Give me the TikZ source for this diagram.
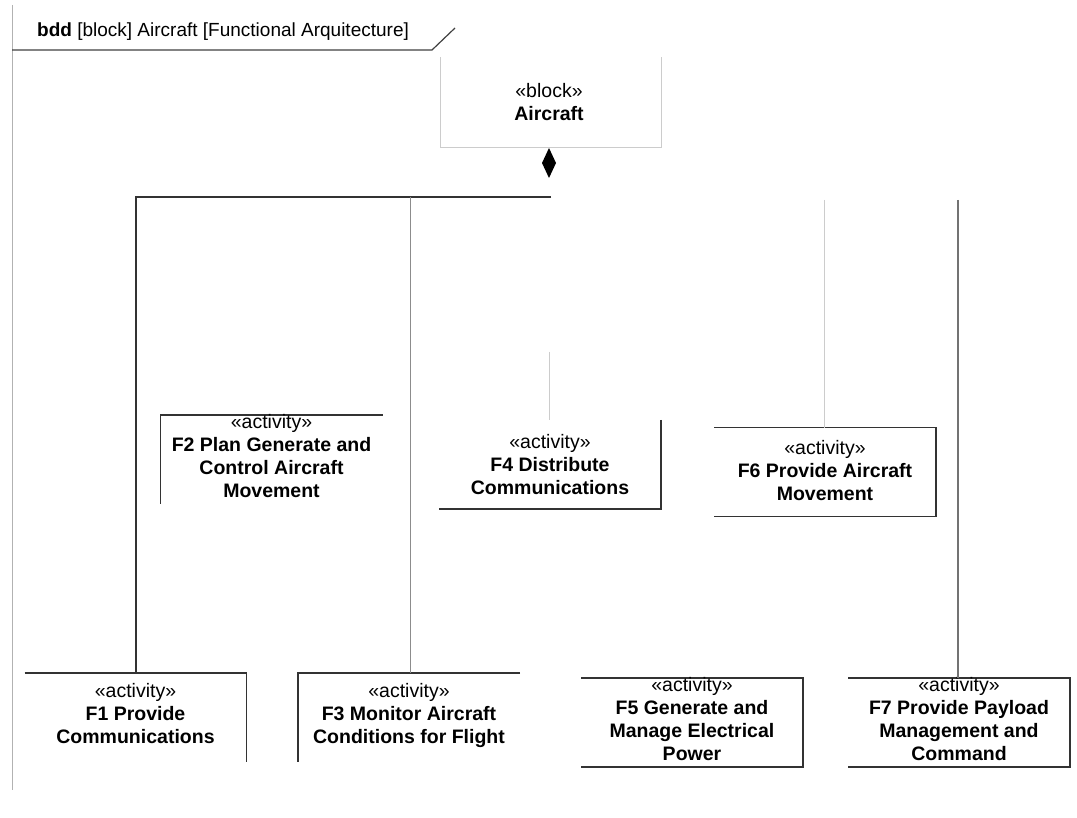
\documentclass[tikz,border=0pt]{standalone}
\usepackage{fontspec}
\setmainfont{Liberation Sans}
\usetikzlibrary{shapes.geometric}
\begin{document}
\begin{tikzpicture}[x=1pt,y=-1pt,
  boxarea/.style={inner sep=0pt,outer sep=0pt,minimum width=222pt,minimum height=89pt},
  label/.style={inner sep=0pt,anchor=north,align=center,font=\fontsize{19.5}{23}\selectfont},
  dark/.style={draw=black!80,line width=1.2pt},
  mid/.style={draw=black!45,line width=1pt},
  light/.style={draw=black!20,line width=1pt},
  frame/.style={draw=black!30,line width=1pt}]
\useasboundingbox (0,0) rectangle (1077,818);
% frame
\coordinate (ftop) at (12,5);
\coordinate (fbot) at (12,790);
\coordinate (hl) at (12,50);
\coordinate (hr) at (432,50);
\coordinate (hd) at (455,28);
\draw[frame] (ftop) -- (fbot);
\draw[draw=black!75,line width=1.2pt] (hl) -- (hr) -- (hd);
\node[anchor=base west,inner sep=0pt,font=\fontsize{19}{22}\selectfont] (hdr) at (37,37) {\textbf{bdd} [block] Aircraft [Functional Arquitecture]};
% Aircraft block
\node[boxarea,minimum width=221pt,minimum height=90pt] (ac) at (550.5,102.5) {};
\draw[light] (ac.north west) -- (ac.south west) -- (ac.south east) -- (ac.north east);
\node[label] (act) at (549,83) {«block»\\\textbf{Aircraft}};
\node[fill=black,diamond,inner sep=0pt,outer sep=0pt,minimum width=14pt,minimum height=30pt] (dia) at (549,163) {};
% boxes
\node[boxarea] (f2) at (271.5,459.5) {};
\node[boxarea] (f4) at (550,464.5) {};
\node[boxarea] (f6) at (825,472) {};
\node[boxarea] (f1) at (135.5,717.5) {};
\node[boxarea] (f3) at (409,717.5) {};
\node[boxarea] (f5) at (692,722.5) {};
\node[boxarea] (f7) at (959,722.5) {};
\draw[dark] (f2.north east) -- (f2.north west) -- (f2.south west);
\draw[dark] (f4.north east) -- (f4.south east) -- (f4.south west);
\draw[dark] (f6.north west) -- (f6.north east) -- (f6.south east) -- (f6.south west);
\draw[dark] (f1.north west) -- (f1.north east) -- (f1.south east);
\draw[dark] (f3.north east) -- (f3.north west) -- (f3.south west);
\draw[dark] (f5.north west) -- (f5.north east) -- (f5.south east) -- (f5.south west);
\draw[dark] (f7.north west) -- (f7.north east) -- (f7.south east) -- (f7.south west);
% labels
\node[label] (f2t) at (f2.center |- 0,414) {«activity»\\\textbf{F2 Plan Generate and}\\\textbf{Control Aircraft}\\\textbf{Movement}};
\node[label] (f4t) at (f4.center |- 0,434) {«activity»\\\textbf{F4 Distribute}\\\textbf{Communications}};
\node[label] (f6t) at (f6.center |- 0,440) {«activity»\\\textbf{F6 Provide Aircraft}\\\textbf{Movement}};
\node[label] (f1t) at (f1.center |- 0,683) {«activity»\\\textbf{F1 Provide}\\\textbf{Communications}};
\node[label] (f3t) at (f3.center |- 0,683) {«activity»\\\textbf{F3 Monitor Aircraft}\\\textbf{Conditions for Flight}};
\node[label] (f5t) at (f5.center |- 0,677) {«activity»\\\textbf{F5 Generate and}\\\textbf{Manage Electrical}\\\textbf{Power}};
\node[label] (f7t) at (f7.center |- 0,677) {«activity»\\\textbf{F7 Provide Payload}\\\textbf{Management and}\\\textbf{Command}};
% connectors
\coordinate (busL) at (136,197);
\coordinate (busR) at (551,197);
\coordinate (b3) at (410,197);
\coordinate (s4) at (549,352);
\coordinate (s6) at (824,200);
\coordinate (s7) at (958,200);
\draw[dark] (busR) -- (busL) -- (busL |- f1.north);
\draw[mid] (b3) -- (b3 |- f3.north);
\draw[light] (s4) -- (s4 |- f4.north);
\draw[light] (s6) -- (s6 |- f6.north);
\draw[draw=black!55,line width=1.2pt] (s7) -- (s7 |- f7.north);
\end{tikzpicture}
\end{document}
